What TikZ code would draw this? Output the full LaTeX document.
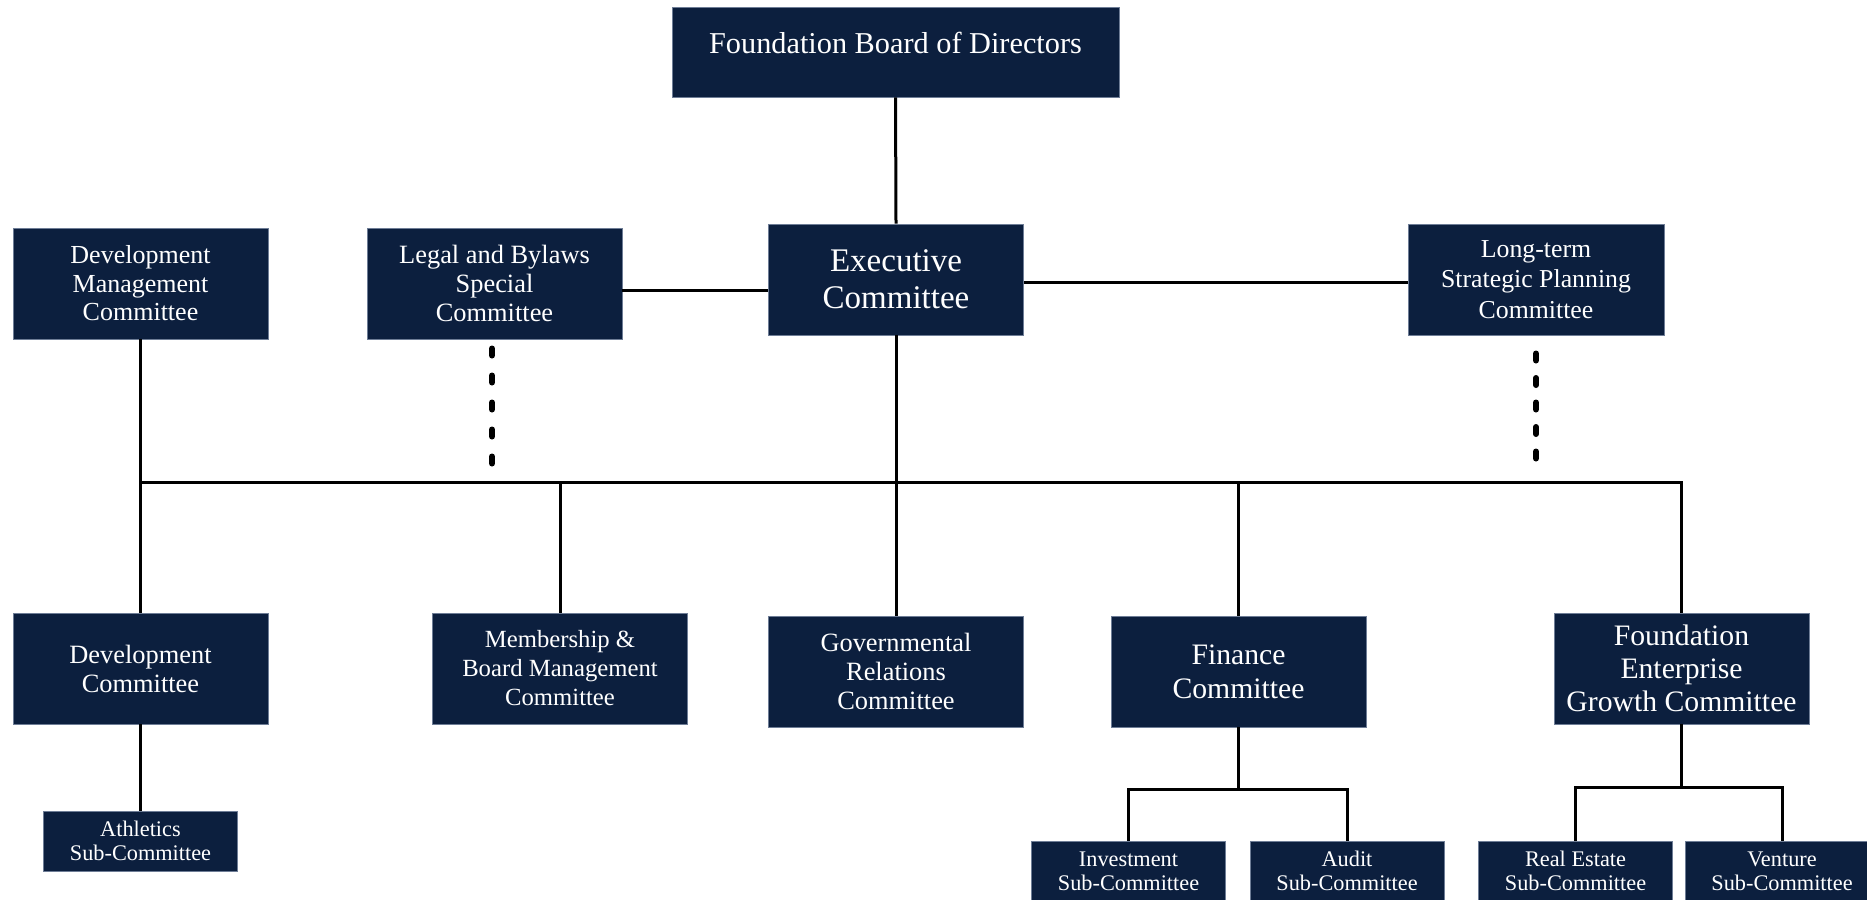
\documentclass[tikz,border=0pt]{standalone}
\usepackage{fontspec}
\setmainfont{Liberation Serif}
\definecolor{navy}{RGB}{12,31,62}
\definecolor{edgegray}{RGB}{110,125,150}
\begin{document}
\begin{tikzpicture}[x=1pt,y=-1pt,
  box/.style={rectangle, fill=navy, draw=edgegray, line width=0.8pt, text=white, align=center, inner sep=0pt},
  bigbox/.style={box, minimum width=255pt, minimum height=111pt},
  subbox/.style={box, minimum width=194pt, minimum height=60pt, font=\fontsize{22.3}{24}\selectfont},
  link/.style={draw=black, line width=3pt},
  dotline/.style={draw=black, line width=6pt, line cap=round},
]
\useasboundingbox (0,0) rectangle (1867,899);
\fill[white] (0,0) rectangle (1867,899);

% top row
\node[box, minimum width=447pt, text height=47pt, text depth=43pt,
      font=\fontsize{30.3}{33}\selectfont] (board) at (895.5,52) {Foundation Board of Directors};
\node[bigbox, font=\fontsize{33}{36.6}\selectfont] (exec) at (896,279.5) {Executive\\Committee};
\node[bigbox, font=\fontsize{26}{28.5}\selectfont] (devmgmt) at (140.5,283.5) {Development\\Management\\Committee};
\node[bigbox, font=\fontsize{26.4}{29}\selectfont] (legal) at (494.5,283.5) {Legal and Bylaws\\Special\\Committee};
\node[bigbox, minimum width=256pt, font=\fontsize{25.8}{30.5}\selectfont] (longterm) at (1536,279.5) {Long-term\\Strategic Planning\\Committee};

% committee row
\node[bigbox, font=\fontsize{26.4}{29}\selectfont] (dev) at (140.5,668.5) {Development\\Committee};
\node[bigbox, font=\fontsize{24.7}{29}\selectfont] (member) at (560,668.5) {Membership \&\\Board Management\\Committee};
\node[bigbox, font=\fontsize{26.4}{29}\selectfont] (gov) at (896,671.5) {Governmental\\Relations\\Committee};
\node[bigbox, font=\fontsize{29.7}{34}\selectfont] (fin) at (1238.5,671.5) {Finance\\Committee};
\node[bigbox, font=\fontsize{29.7}{32.7}\selectfont] (feg) at (1681.5,668.5) {Foundation\\Enterprise\\Growth Committee};

% sub-committees
\node[subbox] (athl) at (140.5,841) {Athletics\\Sub-Committee};
\node[subbox] (invest) at (1128.5,871) {Investment\\Sub-Committee};
\node[subbox] (audit) at (1347,871) {Audit\\Sub-Committee};
\node[subbox] (realest) at (1575.5,871) {Real Estate\\Sub-Committee};
\node[subbox] (venture) at (1782,871) {Venture\\Sub-Committee};

% helper coordinates
\coordinate (busy) at (0,482);
\coordinate (finy) at (0,789);
\coordinate (fegy) at (0,787);
\coordinate (legaldotA) at (492,348.5);
\coordinate (legaldotB) at (492,464);
\coordinate (ltdotA) at (1536,353.5);
\coordinate (ltdotB) at (1536,459);

% connectors
\draw[link] (board.south) -- (exec.north);
\draw[link] ([yshift=-6.5pt]legal.east) -- ([yshift=-6.5pt]legal.east -| exec.west);
\draw[link] ([yshift=-2.5pt]exec.east) -- ([yshift=-2.5pt]exec.east -| longterm.west);
\draw[link] (exec.south) -- (gov.north);
\draw[link] (devmgmt.south) -- (dev.north);
\draw[link, line join=miter] (devmgmt.south |- busy) -- (feg.north |- busy) -- (feg.north);
\draw[link] (member.north) -- (member.north |- busy);
\draw[link] (fin.north) -- (fin.north |- busy);
\draw[link] (dev.south) -- (athl.north);

\draw[link] (fin.south) -- (fin.south |- finy);
\draw[link, line join=miter] (invest.north) -- (invest.north |- finy) -- (audit.north |- finy) -- (audit.north);
\draw[link] (feg.south) -- (feg.south |- fegy);
\draw[link, line join=miter] (realest.north) -- (realest.north |- fegy) -- (venture.north |- fegy) -- (venture.north);

% dotted continuations
\draw[dotline, dash pattern=on 7pt off 20pt] (legaldotA) -- (legaldotB);
\draw[dotline, dash pattern=on 7pt off 17.5pt] (ltdotA) -- (ltdotB);
\end{tikzpicture}
\end{document}
